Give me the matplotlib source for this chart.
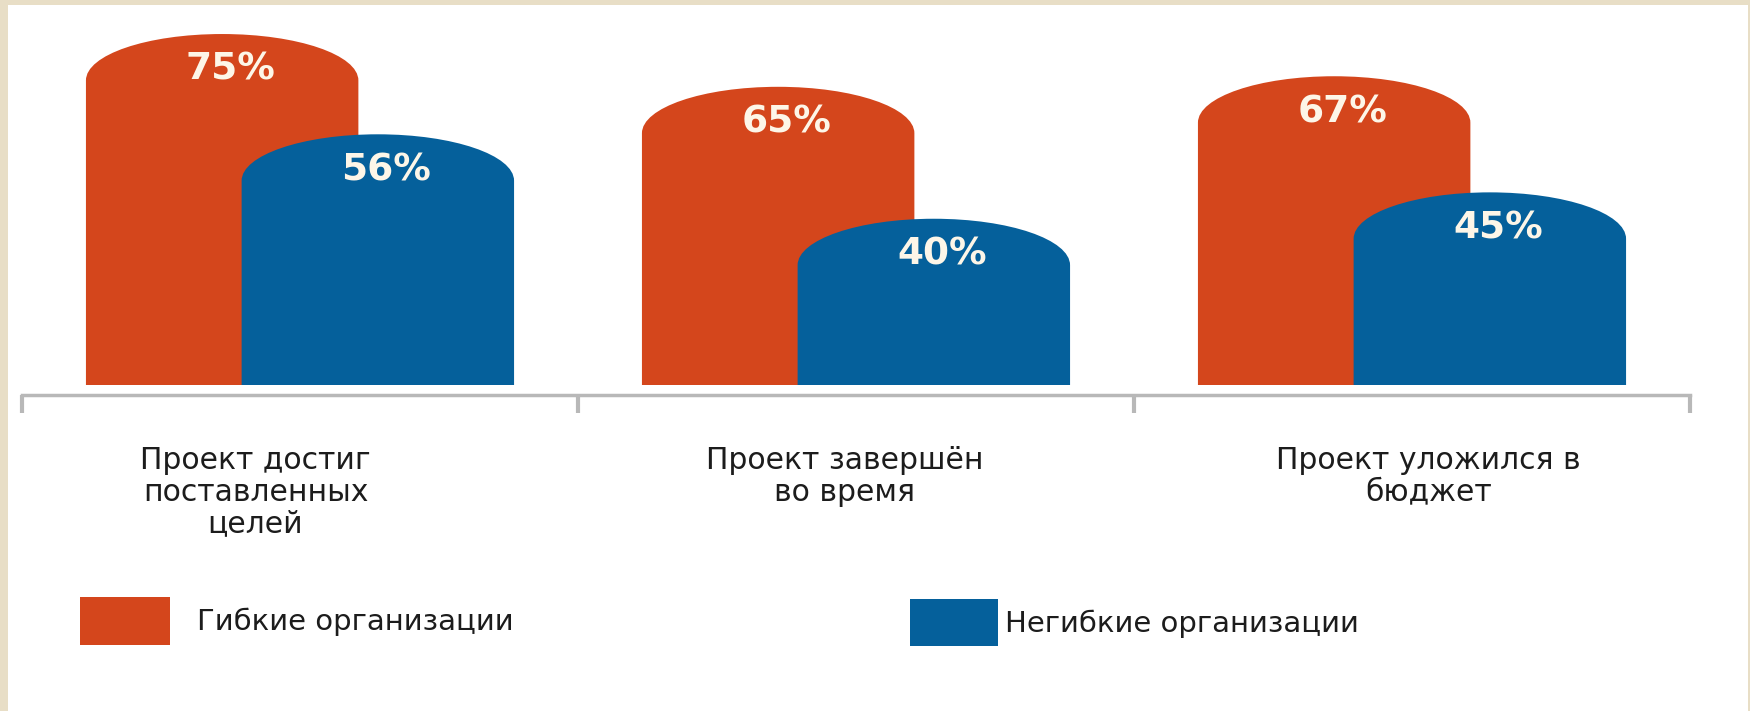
import matplotlib
matplotlib.use('Agg')
import matplotlib.pyplot as plt
from matplotlib.patches import Patch, PathPatch, Rectangle
from matplotlib.path import Path

# данные
categories = ['Проект достиг\nпоставленных\nцелей',
              'Проект завершён\nво время',
              'Проект уложился в\nбюджет']
flexible = [75, 65, 67]
rigid = [56, 40, 45]
series_names = ['Гибкие организации', 'Негибкие организации']

ORANGE = '#d4461c'
BLUE = '#05609b'
BEIGE = '#e8dec6'
GRAY = '#b8b8b8'
TXT = '#1c1c1c'

plt.rcParams['font.family'] = ['DejaVu Sans']

W, H = 1750, 711
fig = plt.figure(figsize=(W / 100, H / 100), dpi=100, facecolor=BEIGE)
fig.patches.append(Rectangle((8 / W, 0), (W - 10) / W, (H - 5) / H,
                             transform=fig.transFigure, facecolor='white',
                             edgecolor='none', zorder=-5))

ax = fig.add_axes([22 / W, (H - 385) / H, 1668 / W, (385 - 5) / H])
ax.set_facecolor('none')

x = list(range(len(categories)))
off, bw = 0.14, 0.49
arc = 8.8  # высота скругления в единицах данных


def rounded(rect, color, z):
    x0, w, h = rect.get_x(), rect.get_width(), rect.get_height()
    rect.set_visible(False)
    k = 0.5523
    r = arc
    verts = [(x0, 0), (x0, h - r),
             (x0, h - r + k * r), (x0 + w / 2 - k * w / 2, h), (x0 + w / 2, h),
             (x0 + w / 2 + k * w / 2, h), (x0 + w, h - r + k * r), (x0 + w, h - r),
             (x0 + w, 0), (x0, 0)]
    codes = [Path.MOVETO, Path.LINETO,
             Path.CURVE4, Path.CURVE4, Path.CURVE4,
             Path.CURVE4, Path.CURVE4, Path.CURVE4,
             Path.LINETO, Path.CLOSEPOLY]
    ax.add_patch(PathPatch(Path(verts, codes), facecolor=color,
                           edgecolor='none', zorder=z))


b1 = ax.bar([i - off for i in x], flexible, bw, color=ORANGE)
b2 = ax.bar([i + off for i in x], rigid, bw, color=BLUE)
for r in b1:
    rounded(r, ORANGE, 2)
for r in b2:
    rounded(r, BLUE, 3)

for i in x:
    ax.text(i - off + 0.015, flexible[i] - 6.8, f'{flexible[i]}%', ha='center',
            va='center', fontsize=27, fontweight='bold', color='#fdf6e8', zorder=5)
    ax.text(i + off + 0.015, rigid[i] - 6.8, f'{rigid[i]}%', ha='center',
            va='center', fontsize=27, fontweight='bold', color='#fdf6e8', zorder=5)

ax.set_xlim(-0.5, 2.5)
ax.set_ylim(8.5, 80.5)

for s in ['top', 'left', 'right']:
    ax.spines[s].set_visible(False)
ax.spines['bottom'].set_position(('outward', 7))
ax.spines['bottom'].set_color(GRAY)
ax.spines['bottom'].set_linewidth(2.5)
ax.set_yticks([])
ax.set_xticks([-0.5, 0.5, 1.5, 2.5])
ax.set_xticklabels([])
ax.tick_params(axis='x', length=13, width=3, color=GRAY, direction='out')

label_dx = [-0.08, -0.02, 0.03]
for i, lab in enumerate(categories):
    ax.text(i + label_dx[i], -0.16, lab, transform=ax.get_xaxis_transform(),
            ha='center', va='top', multialignment='center', fontsize=21.5,
            color=TXT, linespacing=1.12)

# легенда
fs = 21
leg1 = fig.legend(handles=[Patch(facecolor=ORANGE, label=series_names[0])],
                  loc='upper left', bbox_to_anchor=(80 / W, 1 - 597 / H),
                  frameon=False, borderpad=0, borderaxespad=0, fontsize=fs,
                  handlelength=3.1, handleheight=2.16, handletextpad=0.9,
                  labelcolor=TXT)
leg2 = fig.legend(handles=[Patch(facecolor=BLUE, label=series_names[1])],
                  loc='upper left', bbox_to_anchor=(910 / W, 1 - 599 / H),
                  frameon=False, borderpad=0, borderaxespad=0, fontsize=fs,
                  handlelength=3.0, handleheight=2.1, handletextpad=0.25,
                  labelcolor=TXT)

fig.savefig('out.png', dpi=100, facecolor=fig.get_facecolor())
